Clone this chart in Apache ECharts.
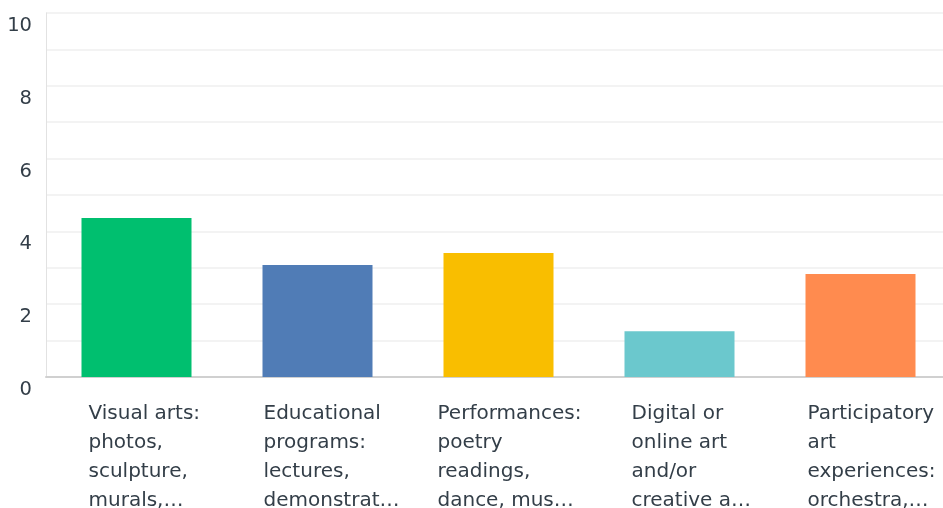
<!DOCTYPE html>
<html>
<head>
<meta charset="utf-8">
<script src="https://cdn.jsdelivr.net/npm/echarts@6/dist/echarts.min.js"></script>
<style>
  html, body { margin: 0; padding: 0; background: #fff; }
  #chart { width: 943px; height: 508px; }
</style>
</head>
<body>
<div id="chart"></div>
<script>
  // categories (labels are truncated in the source, kept as shown)
  var categories = [
    'Visual arts:\nphotos,\nsculpture,\nmurals,…',
    'Educational\nprograms:\nlectures,\ndemonstrat…',
    'Performances:\npoetry\nreadings,\ndance, mus…',
    'Digital or\nonline art\nand/or\ncreative a…',
    'Participatory\nart\nexperiences:\norchestra,…'
  ];
  var values = [4.37, 3.08, 3.41, 1.26, 2.83];
  var barColors = ['#00bf6f', '#507cb6', '#f9be00', '#6bc8cd', '#ff8b4f'];
  var yTicks = [0, 2, 4, 6, 8, 10];

  // label box widths so each left-aligned block starts where the source puts it
  var labelBoxWidths = [96, 108, 122, 96, 106];

  var textColor = '#333e48';
  var fontFam = '"DejaVu Sans", sans-serif';

  var chart = echarts.init(document.getElementById('chart'));

  var xData = categories.map(function (c, i) {
    return { value: c, textStyle: { width: labelBoxWidths[i] } };
  });

  var option = {
    animation: false,
    grid: { left: 46, right: -8, top: 13, bottom: 131, containLabel: false, outerBoundsMode: 'none' },
    xAxis: {
      type: 'category',
      data: xData,
      axisTick: { show: false },
      axisLine: { lineStyle: { color: '#d0d0d0', width: 2 } },
      axisLabel: {
        interval: 0,
        margin: 22,
        align: 'center',
        color: textColor,
        fontFamily: fontFam,
        fontSize: 20,
        lineHeight: 29,
        formatter: function (v) {
          return v.split('\n').map(function (s) { return '{t|' + s + '}'; }).join('\n');
        },
        rich: {
          t: { align: 'left', fontFamily: fontFam, fontSize: 20, lineHeight: 29, color: textColor }
        }
      }
    },
    yAxis: {
      type: 'value',
      min: yTicks[0],
      max: yTicks[yTicks.length - 1],
      interval: 2,
      axisLine: { show: true, lineStyle: { color: '#e2e2e2', width: 1 } },
      axisTick: { show: false },
      axisLabel: {
        margin: 14,
        verticalAlign: 'top',
        padding: [3, 0, 0, 0],
        color: textColor,
        fontFamily: fontFam,
        fontSize: 19.5
      },
      splitLine: { lineStyle: { color: '#efefef', width: 1.5 } },
      minorTick: { show: false, splitNumber: 2 },
      minorSplitLine: { show: true, lineStyle: { color: '#efefef', width: 1.5 } }
    },
    series: [{
      type: 'bar',
      barWidth: 110,
      data: values.map(function (v, i) {
        return { value: v, itemStyle: { color: barColors[i] } };
      })
    }]
  };

  chart.setOption(option);
</script>
</body>
</html>
